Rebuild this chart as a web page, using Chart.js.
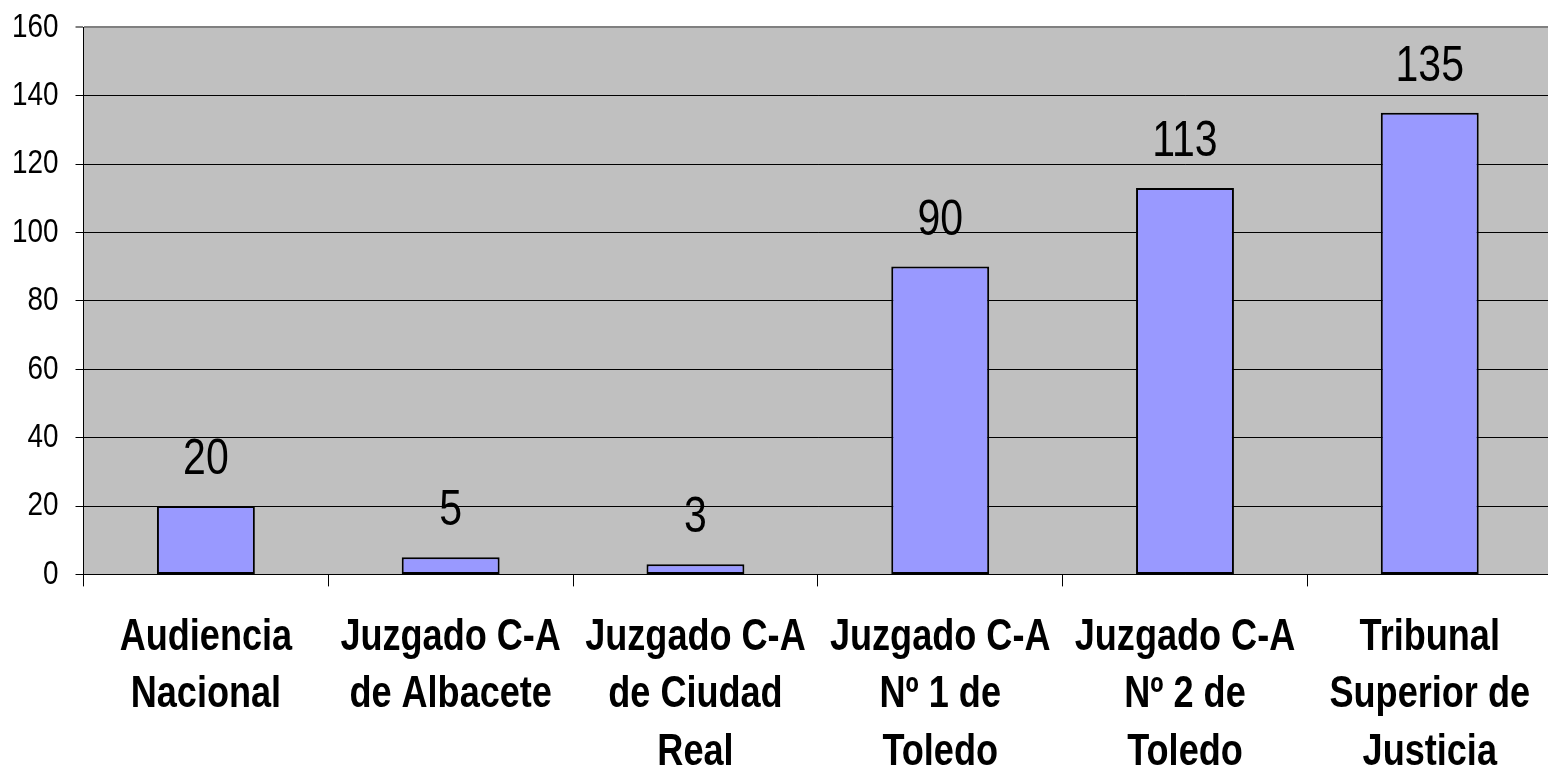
<!DOCTYPE html>
<html>
<head>
<meta charset="utf-8">
<script src="https://cdn.jsdelivr.net/npm/chart.js@4.4.1/dist/chart.umd.min.js"></script>
<style>
  html, body { margin: 0; padding: 0; background: #fff; overflow: hidden; }
</style>
</head>
<body>
<canvas id="myChart" width="1553" height="774"></canvas>
<script>
const categories = [
  ['Audiencia', 'Nacional'],
  ['Juzgado C-A', 'de Albacete'],
  ['Juzgado C-A', 'de Ciudad', 'Real'],
  ['Juzgado C-A', 'Nº 1 de', 'Toledo'],
  ['Juzgado C-A', 'Nº 2 de', 'Toledo'],
  ['Tribunal', 'Superior de', 'Justicia']
];
const values = [20, 5, 3, 90, 113, 135];
const yMin = 0;
const yMax = 160;
const yStep = 20;

const font = '"Liberation Sans", Arial, sans-serif';
// no Arial Narrow here, so squeeze the text horizontally instead
const squeeze = 0.82;

const canvas = document.getElementById('myChart');
const c2d = canvas.getContext('2d');
const origFill = c2d.fillText;
const origMeasure = c2d.measureText;
c2d.fillText = function (text, x, y) {
  this.save();
  this.translate(x, y);
  this.scale(squeeze, 1);
  origFill.call(this, text, 0, 0);
  this.restore();
};
c2d.measureText = function (text) {
  const m = origMeasure.call(this, text);
  return {
    width: m.width * squeeze,
    actualBoundingBoxAscent: m.actualBoundingBoxAscent,
    actualBoundingBoxDescent: m.actualBoundingBoxDescent,
    actualBoundingBoxLeft: m.actualBoundingBoxLeft * squeeze,
    actualBoundingBoxRight: m.actualBoundingBoxRight * squeeze
  };
};

// grey plot area like the old office charts
const plotBg = {
  id: 'plotBg',
  beforeDraw(chart) {
    const { ctx, chartArea: a } = chart;
    ctx.save();
    ctx.fillStyle = '#C0C0C0';
    ctx.fillRect(a.left, a.top, a.right - a.left, a.bottom - a.top);
    ctx.restore();
  }
};

// numbers above the bars
const valueLabels = {
  id: 'valueLabels',
  afterDatasetsDraw(chart) {
    const ctx = chart.ctx;
    const meta = chart.getDatasetMeta(0);
    ctx.save();
    ctx.font = '50px ' + font;
    ctx.fillStyle = '#000';
    ctx.textAlign = 'center';
    ctx.textBaseline = 'alphabetic';
    meta.data.forEach((bar, i) => {
      ctx.fillText(String(values[i]), bar.x, bar.y - 32);
    });
    ctx.restore();
  }
};

const myChart = new Chart(c2d, {
  type: 'bar',
  data: {
    labels: categories,
    datasets: [{
      data: values,
      backgroundColor: '#9999FF',
      borderColor: '#000',
      borderWidth: 2,
      borderSkipped: false,
      categoryPercentage: 1,
      barPercentage: 0.4
    }]
  },
  options: {
    responsive: false,
    animation: false,
    layout: { padding: { top: 0, left: -5, right: 0, bottom: -30 } },
    plugins: {
      legend: { display: false },
      tooltip: { enabled: false }
    },
    scales: {
      x: {
        grid: {
          offset: true,
          drawOnChartArea: false,
          tickLength: 12,
          color: '#000'
        },
        border: { color: '#000', width: 1 },
        ticks: {
          maxRotation: 0,
          autoSkip: false,
          color: '#000',
          padding: 23,
          font: { family: font, size: 44, weight: 'bold', lineHeight: 1.3 }
        }
      },
      y: {
        min: yMin,
        max: yMax,
        grid: {
          tickLength: 8,
          color: (c) => (c.tick && c.tick.value === yMax) ? '#808080' : '#000',
          lineWidth: (c) => (c.tick && c.tick.value === yMax) ? 2 : 1
        },
        border: { color: '#000', width: 1 },
        ticks: {
          stepSize: yStep,
          color: '#000',
          padding: 17,
          font: { family: font, size: 34, lineHeight: 0.6 }
        }
      }
    }
  },
  plugins: [plotBg, valueLabels]
});
</script>
</body>
</html>
